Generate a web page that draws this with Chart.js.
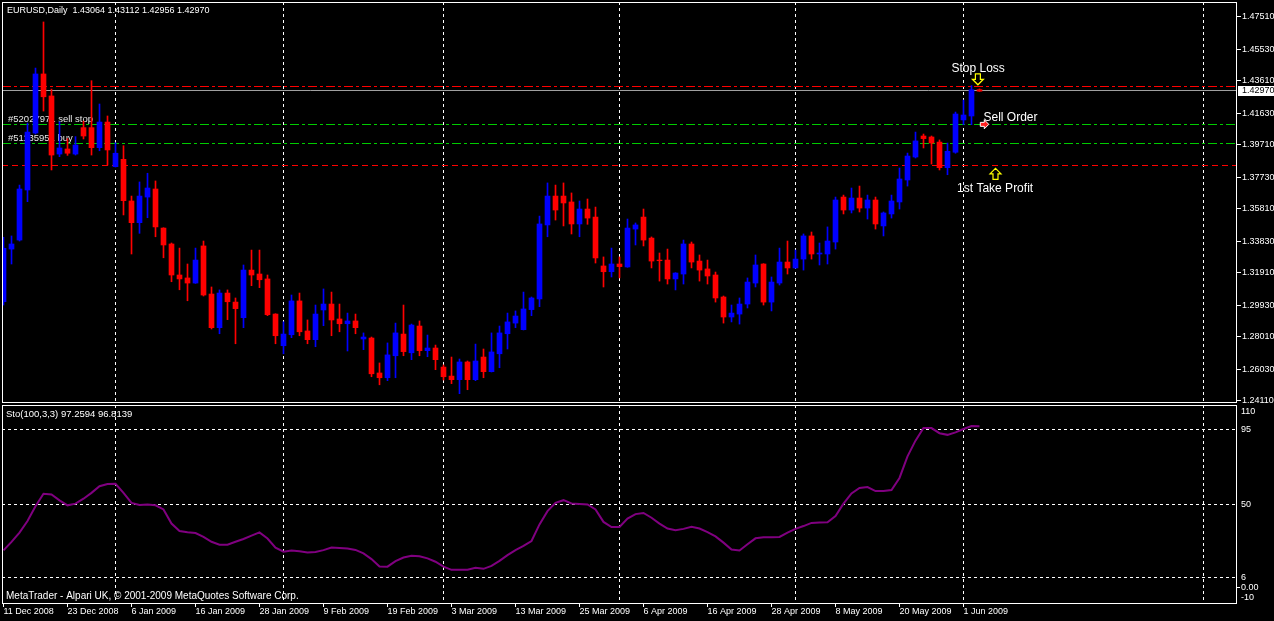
<!DOCTYPE html>
<html>
<head>
<meta charset="utf-8">
<script src="https://cdn.jsdelivr.net/npm/chart.js@4.4.0/dist/chart.umd.min.js"></script>
<style>
  body { margin: 0; background: #000; width: 1274px; height: 621px; overflow: hidden; position: relative; }
  #price { position: absolute; left: 0; top: 0; }
  #sto { position: absolute; left: 0; top: 403px; }
</style>
</head>
<body>
<canvas id="price" width="1274" height="406"></canvas>
<canvas id="sto" width="1274" height="218"></canvas>
<script>
// EURUSD daily, 11 Dec 2008 .. 3 Jun 2009 (bar index 0..122)
const open = [
  1.3014, 1.3335, 1.3390, 1.3695, 1.4042, 1.4402, 1.4268, 1.3914, 1.3945, 1.3914,
  1.4075, 1.4075, 1.3953, 1.4109, 1.3837, 1.3882, 1.3628, 1.3496, 1.3652, 1.3701,
  1.3463, 1.3366, 1.3177, 1.3159, 1.3128, 1.3354, 1.3061, 1.2856, 1.3067, 1.3012,
  1.2917, 1.3207, 1.3183, 1.3153, 1.2939, 1.2746, 1.2813, 1.3019, 1.2836, 1.2783,
  1.2964, 1.3000, 1.2909, 1.2880, 1.2897, 1.2787, 1.2793, 1.2580, 1.2551, 1.2685,
  1.2817, 1.2703, 1.2866, 1.2716, 1.2732, 1.2616, 1.2561, 1.2539, 1.2647, 1.2539,
  1.2677, 1.2588, 1.2697, 1.2819, 1.2884, 1.2844, 1.2966, 1.3031, 1.3482, 1.3658,
  1.3658, 1.3622, 1.3488, 1.3579, 1.3530, 1.3232, 1.3197, 1.3244, 1.3226, 1.3457,
  1.3530, 1.3402, 1.3268, 1.3268, 1.3153, 1.3183, 1.3366, 1.3262, 1.3214, 1.3177,
  1.3043, 1.2921, 1.2939, 1.3000, 1.3128, 1.3244, 1.3012, 1.3128, 1.3256, 1.3220,
  1.3274, 1.3415, 1.3305, 1.3305, 1.3378, 1.3652, 1.3573, 1.3646, 1.3585, 1.3634,
  1.3476, 1.3549, 1.3622, 1.3756, 1.3896, 1.4024, 1.4018, 1.3987, 1.3831, 1.3925,
  1.4122, 1.4146, 1.43064
];
const high = [
  1.3407, 1.3415, 1.3725, 1.4103, 1.4438, 1.4719, 1.4310, 1.4111, 1.4008, 1.4020,
  1.4115, 1.4361, 1.4219, 1.4146, 1.3983, 1.3965, 1.3658, 1.3744, 1.3797, 1.3750,
  1.3465, 1.3372, 1.3341, 1.3244, 1.3341, 1.3384, 1.3104, 1.3086, 1.3086, 1.3037,
  1.3238, 1.3329, 1.3329, 1.3177, 1.2941, 1.2892, 1.3055, 1.3067, 1.2903, 1.2994,
  1.3092, 1.3073, 1.3000, 1.2945, 1.2939, 1.2824, 1.2799, 1.2641, 1.2763, 1.2884,
  1.2994, 1.2878, 1.2897, 1.2811, 1.2750, 1.2629, 1.2677, 1.2665, 1.2653, 1.2756,
  1.2726, 1.2824, 1.2866, 1.2945, 1.2958, 1.3073, 1.3043, 1.3536, 1.3738, 1.3725,
  1.3738, 1.3677, 1.3628, 1.3640, 1.3591, 1.3287, 1.3341, 1.3287, 1.3518, 1.3494,
  1.3579, 1.3409, 1.3311, 1.3335, 1.3191, 1.3390, 1.3378, 1.3299, 1.3268, 1.3195,
  1.3049, 1.2994, 1.3037, 1.3159, 1.3299, 1.3246, 1.3165, 1.3341, 1.3384, 1.3329,
  1.3427, 1.3439, 1.3372, 1.3470, 1.3652, 1.3664, 1.3707, 1.3719, 1.3664, 1.3652,
  1.3561, 1.3664, 1.3829, 1.3920, 1.4048, 1.4036, 1.4024, 1.4000, 1.3981, 1.4170,
  1.4243, 1.4331, 1.43112
];
const low = [
  1.2994, 1.3244, 1.3384, 1.3624, 1.4036, 1.4176, 1.3817, 1.3898, 1.3906, 1.3908,
  1.4006, 1.3908, 1.3934, 1.3847, 1.3835, 1.3543, 1.3305, 1.3431, 1.3526, 1.3410,
  1.3282, 1.3136, 1.3087, 1.3020, 1.3126, 1.3049, 1.2848, 1.2819, 1.2905, 1.2758,
  1.2856, 1.3112, 1.3100, 1.2929, 1.2758, 1.2697, 1.2795, 1.2807, 1.2758, 1.2740,
  1.2868, 1.2807, 1.2831, 1.2714, 1.2819, 1.2722, 1.2557, 1.2508, 1.2533, 1.2551,
  1.2685, 1.2661, 1.2685, 1.2679, 1.2600, 1.2537, 1.2515, 1.2454, 1.2478, 1.2533,
  1.2551, 1.2586, 1.2612, 1.2726, 1.2856, 1.2842, 1.2929, 1.2984, 1.3410, 1.3512,
  1.3476, 1.3427, 1.3410, 1.3486, 1.3250, 1.3104, 1.3165, 1.3159, 1.3224, 1.3360,
  1.3354, 1.3220, 1.3140, 1.3122, 1.3086, 1.3122, 1.3220, 1.3140, 1.3122, 1.3012,
  1.2884, 1.2891, 1.2878, 1.2976, 1.3104, 1.2994, 1.2958, 1.3116, 1.3183, 1.3218,
  1.3207, 1.3274, 1.3238, 1.3244, 1.3335, 1.3549, 1.3555, 1.3561, 1.3518, 1.3457,
  1.3415, 1.3524, 1.3579, 1.3719, 1.3890, 1.3951, 1.3853, 1.3817, 1.3788, 1.3919,
  1.4093, 1.4093, 1.42956
];
const close = [
  1.3340, 1.3366, 1.3701, 1.4048, 1.4402, 1.4263, 1.3908, 1.3951, 1.3919, 1.3969,
  1.4024, 1.3953, 1.4109, 1.3939, 1.3919, 1.3630, 1.3496, 1.3658, 1.3707, 1.3470,
  1.3360, 1.3177, 1.3153, 1.3128, 1.3268, 1.3055, 1.2856, 1.3067, 1.3014, 1.2972,
  1.3207, 1.3177, 1.3148, 1.2935, 1.2807, 1.2817, 1.3019, 1.2831, 1.2783, 1.2939,
  1.3000, 1.2903, 1.2880, 1.2897, 1.2856, 1.2799, 1.2575, 1.2551, 1.2690, 1.2824,
  1.2710, 1.2872, 1.2716, 1.2732, 1.2661, 1.2557, 1.2539, 1.2647, 1.2539, 1.2653,
  1.2588, 1.2708, 1.2824, 1.2891, 1.2927, 1.2970, 1.3037, 1.3488, 1.3658, 1.3573,
  1.3616, 1.3488, 1.3579, 1.3524, 1.3281, 1.3197, 1.3244, 1.3228, 1.3463, 1.3482,
  1.3390, 1.3262, 1.3264, 1.3153, 1.3189, 1.3366, 1.3256, 1.3207, 1.3171, 1.3037,
  1.2921, 1.2945, 1.3000, 1.3134, 1.3238, 1.3012, 1.3134, 1.3256, 1.3220, 1.3274,
  1.3415, 1.3305, 1.3311, 1.3384, 1.3634, 1.3573, 1.3646, 1.3585, 1.3634, 1.3488,
  1.3555, 1.3628, 1.3762, 1.3902, 1.3994, 1.4008, 1.3981, 1.3831, 1.3931, 1.4158,
  1.4152, 1.4306, 1.42970
];
// Stochastic(100,3,3) main line
const stoMain = [
  22.3, 27.5, 33.0, 40.0, 49.0, 56.5, 56.0, 52.5, 49.5, 50.5,
  53.5, 57.0, 61.0, 62.3, 62.5, 57.0, 51.0, 49.7, 50.0, 49.5,
  47.0, 38.5, 34.0, 33.2, 32.8, 30.5, 27.5, 25.8, 25.8, 27.5,
  29.2, 31.2, 33.2, 29.5, 24.0, 21.5, 22.3, 21.8, 21.1, 21.3,
  22.5, 24.1, 23.8, 23.5, 22.6, 20.5, 17.1, 12.6, 12.5, 15.8,
  18.0, 19.1, 18.8, 17.5, 15.5, 12.5, 10.6, 10.6, 10.6, 11.8,
  11.2, 13.0, 16.0, 19.5, 22.5, 25.0, 28.0, 38.0, 46.0, 51.0,
  52.6, 50.6, 50.3, 50.0, 47.0, 39.5, 36.4, 36.5, 41.5, 44.2,
  44.9, 42.0, 38.5, 35.5, 34.5, 35.3, 36.5, 35.5, 33.3, 30.8,
  27.0, 22.8, 22.3, 26.0, 29.6, 30.2, 30.3, 30.4, 33.0, 35.3,
  37.0, 38.9, 39.2, 39.3, 43.0, 50.5, 56.7, 60.0, 60.5, 58.1,
  58.2, 58.7, 66.0, 79.0, 88.5, 96.1, 96.1, 93.0, 92.0, 93.5,
  95.5, 97.3, 97.2594
];
const dateIdx = [0, 8, 16, 24, 32, 40, 48, 56, 64, 72, 80, 88, 96, 104, 112, 120];
const dateLabels = ['11 Dec 2008', '23 Dec 2008', '6 Jan 2009', '16 Jan 2009', '28 Jan 2009', '9 Feb 2009',
  '19 Feb 2009', '3 Mar 2009', '13 Mar 2009', '25 Mar 2009', '6 Apr 2009', '16 Apr 2009',
  '28 Apr 2009', '8 May 2009', '20 May 2009', '1 Jun 2009'];
const monthIdx = [14, 35, 55, 77, 99, 120, 150];
const priceTicks = [1.4751, 1.4553, 1.4361, 1.4163, 1.3971, 1.3773, 1.3581, 1.3383, 1.3191, 1.2993, 1.2801, 1.2603, 1.2411];
const stoTicks = [95, 50, 6, 0];
const stoEdgeTicks = [110, -10];
// stop loss, sell stop, buy, 1st take profit
const orderPrices = [1.4327, 1.4095, 1.3980, 1.3845];
const orderLabels = ['', '#52027971 sell stop', '#51135951 buy', ''];
const bidPrice = 1.4297;

const X_MIN = -0.1875, X_MAX = 154.1875;
const BULL = '#0000ff', BEAR = '#ff0000';
const FAMILY = '"Liberation Sans", Arial, sans-serif';
const tickFont = { family: 'Liberation Sans, Arial, sans-serif', size: 9 };
const numCss = '9px ' + FAMILY;
const textCss = '9.5px ' + FAMILY;
const footCss = '10px ' + FAMILY;
const bigCss = '12px ' + FAMILY;
const last = close.length - 1;
const barColors = close.map((c, i) => c >= open[i] ? BULL : BEAR);

// keep the plot area exactly where the layout padding puts it
function noEdgePadding(s) {
  s.paddingTop = 0; s.paddingBottom = 0; s.paddingLeft = 0; s.paddingRight = 0;
}

function frame(chart) {
  const { ctx, chartArea: ca } = chart;
  ctx.save();
  ctx.strokeStyle = '#ffffff';
  ctx.lineWidth = 1;
  ctx.strokeRect(ca.left + 0.5, ca.top + 0.5, ca.width - 1, ca.height - 1);
  ctx.restore();
}

function hollowArrow(ctx, cx, tip, dir) {
  // dir = 1 points down, -1 points up
  const s = dir;
  ctx.beginPath();
  ctx.moveTo(cx - 2.5, tip - s * 11);
  ctx.lineTo(cx + 2.5, tip - s * 11);
  ctx.lineTo(cx + 2.5, tip - s * 5.5);
  ctx.lineTo(cx + 5.5, tip - s * 5.5);
  ctx.lineTo(cx, tip);
  ctx.lineTo(cx - 5.5, tip - s * 5.5);
  ctx.lineTo(cx - 2.5, tip - s * 5.5);
  ctx.closePath();
  ctx.fillStyle = '#000';
  ctx.fill();
  ctx.strokeStyle = '#ffff00';
  ctx.lineWidth = 1.2;
  ctx.stroke();
}

const priceOverlay = {
  id: 'priceOverlay',
  beforeDatasetsDraw(chart) {
    const { ctx, chartArea: ca, scales: { y } } = chart;
    ctx.save();
    const by = Math.round(y.getPixelForValue(bidPrice)) - 0.5;
    ctx.strokeStyle = '#a0a0a0';
    ctx.lineWidth = 1;
    ctx.beginPath(); ctx.moveTo(ca.left, by); ctx.lineTo(ca.right, by); ctx.stroke();
    const styles = [
      { c: '#ff0000', d: [9, 3, 3, 3] },
      { c: '#00cc00', d: [9, 3, 3, 3] },
      { c: '#00cc00', d: [9, 3, 3, 3] },
      { c: '#ff0000', d: [6, 4] }
    ];
    orderPrices.forEach((p, k) => {
      const py = Math.floor(y.getPixelForValue(p)) + 0.5;
      ctx.strokeStyle = styles[k].c;
      ctx.lineWidth = 1;
      ctx.setLineDash(styles[k].d);
      ctx.beginPath(); ctx.moveTo(ca.left, py); ctx.lineTo(ca.right, py); ctx.stroke();
      ctx.setLineDash([]);
      if (orderLabels[k]) {
        ctx.font = textCss;
        ctx.fillStyle = '#e8e8e8';
        ctx.textBaseline = 'middle';
        ctx.fillText(orderLabels[k], ca.left + 6, py - 5.5);
      }
    });
    ctx.restore();
  },
  afterDraw(chart) {
    const { ctx, chartArea: ca, scales: { x, y } } = chart;
    frame(chart);
    ctx.save();
    ctx.textBaseline = 'middle';
    ctx.font = numCss;
    ctx.fillStyle = '#ffffff';
    const ohlc = [open[last], high[last], low[last], close[last]].map(v => v.toFixed(5)).join(' ');
    ctx.fillText('EURUSD,Daily  ' + ohlc, 7, 11);
    // bid price box on the axis
    const by = y.getPixelForValue(bidPrice);
    ctx.fillStyle = '#ffffff';
    ctx.fillRect(ca.right + 1, Math.round(by) - 5, 40, 10);
    ctx.fillStyle = '#000000';
    ctx.fillText(bidPrice.toFixed(5), ca.right + 5, Math.round(by));
    // trade annotations
    ctx.font = bigCss;
    ctx.fillStyle = '#ffffff';
    ctx.fillText('Stop Loss', x.getPixelForValue(118.5), y.getPixelForValue(1.4437));
    ctx.fillText('Sell Order', x.getPixelForValue(122.5), y.getPixelForValue(1.4136));
    ctx.fillText('1st Take Profit', x.getPixelForValue(119.2), y.getPixelForValue(1.3705));
    hollowArrow(ctx, x.getPixelForValue(121.8), y.getPixelForValue(orderPrices[0]) - 1.5, 1);
    hollowArrow(ctx, x.getPixelForValue(124), y.getPixelForValue(orderPrices[3]) + 3, -1);
    // sell order marker
    const sx = x.getPixelForValue(122.6), sy = y.getPixelForValue(orderPrices[1]);
    ctx.beginPath();
    ctx.moveTo(sx - 4, sy - 2); ctx.lineTo(sx, sy - 2); ctx.lineTo(sx, sy - 4.5);
    ctx.lineTo(sx + 4.5, sy); ctx.lineTo(sx, sy + 4.5); ctx.lineTo(sx, sy + 2);
    ctx.lineTo(sx - 4, sy + 2); ctx.closePath();
    ctx.fillStyle = '#ff2020'; ctx.fill();
    ctx.strokeStyle = '#ffffff'; ctx.lineWidth = 1; ctx.stroke();
    ctx.restore();
  }
};

new Chart(document.getElementById('price'), {
  type: 'bar',
  data: {
    datasets: [
      {
        data: open.map((o, i) => ({ x: i, y: [low[i], high[i]] })),
        backgroundColor: barColors, barThickness: 1, grouped: false, borderWidth: 0
      },
      {
        data: open.map((o, i) => ({ x: i, y: [o, close[i]] })),
        backgroundColor: barColors, barThickness: 5, grouped: false, borderWidth: 0
      }
    ]
  },
  options: {
    responsive: false,
    animation: false,
    events: [],
    layout: { autoPadding: false, padding: { left: 2, top: 2, right: 0, bottom: 3 } },
    plugins: { legend: { display: false }, tooltip: { enabled: false } },
    scales: {
      x: {
        type: 'linear', min: X_MIN, max: X_MAX, offset: false,
        afterBuildTicks: s => { s.ticks = monthIdx.map(v => ({ value: v })); },
        afterFit: s => { s.height = 0; noEdgePadding(s); },
        grid: { offset: false, color: '#ffffff', lineWidth: 1, drawTicks: false },
        border: { display: false, dash: [3, 3] },
        ticks: { display: false, autoSkip: false }
      },
      y: {
        position: 'right', min: 1.2397, max: 1.48406,
        afterBuildTicks: s => { s.ticks = priceTicks.map(v => ({ value: v })); },
        afterFit: s => { s.width = 37; noEdgePadding(s); },
        grid: { drawOnChartArea: false, drawTicks: true, tickLength: 4, color: '#ffffff' },
        border: { display: false },
        ticks: { autoSkip: false, padding: 1, color: '#ffffff', font: tickFont, callback: v => v.toFixed(5) }
      }
    }
  },
  plugins: [priceOverlay]
});

const stoOverlay = {
  id: 'stoOverlay',
  afterDraw(chart) {
    const { ctx, chartArea: ca, scales: { y } } = chart;
    frame(chart);
    ctx.save();
    ctx.fillStyle = '#ffffff';
    ctx.textBaseline = 'middle';
    ctx.font = textCss;
    ctx.fillText('Sto(100,3,3) ' + stoMain[last].toFixed(4) + ' 96.8139', 6, 11);
    ctx.font = footCss;
    ctx.fillText('MetaTrader - Alpari UK, \u00a9 2001-2009 MetaQuotes Software Corp.', 6, 193);
    // edge labels are pushed inside the panel like the terminal does
    ctx.font = numCss;
    stoEdgeTicks.forEach(v => {
      const py = Math.min(Math.max(y.getPixelForValue(v), ca.top + 7), ca.bottom - 6);
      ctx.fillText(String(v), ca.right + 4, py);
    });
    ctx.restore();
  }
};

new Chart(document.getElementById('sto'), {
  type: 'line',
  data: {
    datasets: [{
      data: stoMain.map((v, i) => ({ x: i, y: v })),
      borderColor: '#800080', borderWidth: 2, pointRadius: 0, tension: 0, fill: false
    }]
  },
  options: {
    responsive: false,
    animation: false,
    events: [],
    layout: { autoPadding: false, padding: { left: 2, top: 2, right: 0, bottom: 0 } },
    plugins: { legend: { display: false }, tooltip: { enabled: false } },
    scales: {
      x: {
        type: 'linear', min: X_MIN, max: X_MAX, offset: false,
        afterBuildTicks: s => {
          s.ticks = [...new Set(dateIdx.concat(monthIdx))].sort((a, b) => a - b).map(v => ({ value: v }));
        },
        afterFit: s => { s.height = 17; noEdgePadding(s); },
        grid: {
          offset: false, drawTicks: true, tickLength: 3, lineWidth: 1,
          color: c => monthIdx.includes(c.tick.value) ? '#ffffff' : 'rgba(0,0,0,0)',
          tickColor: c => dateIdx.includes(c.tick.value) ? '#ffffff' : 'rgba(0,0,0,0)'
        },
        border: { display: false, dash: [3, 3] },
        ticks: {
          autoSkip: false, maxRotation: 0, minRotation: 0, align: 'start', padding: -1,
          color: '#ffffff', font: tickFont,
          callback: v => { const k = dateIdx.indexOf(v); return k < 0 ? '' : dateLabels[k]; }
        }
      },
      y: {
        position: 'right', min: -10, max: 110,
        afterBuildTicks: s => { s.ticks = stoTicks.map(v => ({ value: v })); },
        afterFit: s => { s.width = 37; noEdgePadding(s); },
        grid: {
          drawTicks: true, tickLength: 3, lineWidth: 1,
          color: c => c.tick.value === 0 ? 'rgba(0,0,0,0)' : '#ffffff',
          tickColor: c => c.tick.value === 0 ? '#ffffff' : 'rgba(0,0,0,0)'
        },
        border: { display: false, dash: [3, 3] },
        ticks: {
          autoSkip: false, padding: 1, color: '#ffffff', font: tickFont,
          callback: v => v === 0 ? '0.00' : String(v)
        }
      }
    }
  },
  plugins: [stoOverlay]
});
</script>
</body>
</html>
